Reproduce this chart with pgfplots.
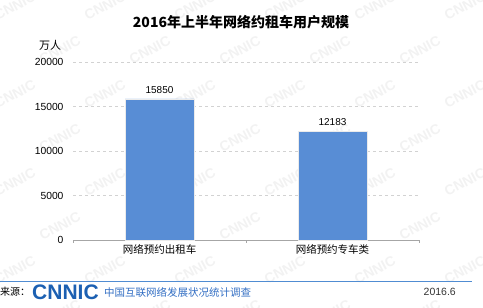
\documentclass[border=0pt]{standalone}
\usepackage{pgfplots}
\pgfplotsset{compat=1.18}
\usepackage{fontspec}
\setmainfont{Liberation Sans}
\newfontfamily\cjk{Noto Sans CJK SC}
\definecolor{barblue}{RGB}{88,141,213}
\definecolor{lineblue}{RGB}{80,140,210}
\definecolor{logoblue}{RGB}{28,96,178}
\definecolor{srcblue}{RGB}{50,110,195}
\begin{document}
\begin{tikzpicture}[x=1pt,y=1pt]
\path[use as bounding box] (0pt,0pt) rectangle (483pt,308pt);
\foreach \r in {0,...,7}{
  \foreach \k in {0,...,5}{
    \pgfmathsetmacro{\xx}{mod(\r,2)*45+15+90*\k}
    \pgfmathsetmacro{\yy}{302-44*\r}
    \node[rotate=28, text=black!5, font=\bfseries\fontsize{14}{14}\selectfont] at (\xx pt,\yy pt) {CNNIC};
  }
}
\begin{axis}[
  at={(73pt,68pt)}, anchor=south west,
  scale only axis, width=346pt, height=178pt,
  xmin=-0.5, xmax=1.5, ymin=0, ymax=20000,
  ytick={0,5000,10000,15000,20000},
  xtick={0,1}, xticklabels={\cjk 网络预约出租车, \cjk 网络预约专车类},
  minor xtick={-0.5,0.5,1.5},
  major tick length=0pt, minor tick length=3pt,
  tick align=outside,
  minor tick style={gray!70},
  axis x line*=bottom, axis y line*=left,
  x axis line style={gray!70, -},
  y axis line style={draw=none},
  ymajorgrids, grid style={dashed, gray!35},
  yticklabel style={font=\fontsize{10.3}{11}\selectfont, xshift=-6pt},
  xticklabel style={font=\fontsize{10.5}{12}\selectfont, yshift=-1pt},
  /pgf/number format/assume math mode=true,
  scaled y ticks=false,
  yticklabel={\pgfmathprintnumber[1000 sep={}]{\tick}},
  ybar, bar width=69pt,
  nodes near coords,
  nodes near coords style={font=\fontsize{10}{11}\selectfont, /pgf/number format/1000 sep={}, yshift=2pt},
  clip=false,
]
\addplot[fill=barblue, draw=black!8, line width=0.6pt] coordinates {(0,15850) (1,12183)};
\end{axis}
\node[font=\cjk\bfseries\fontsize{14}{16}\selectfont] at (241pt,286pt) {2016年上半年网络约租车用户规模};
\node[font=\cjk\fontsize{11}{12}\selectfont] at (50pt,263pt) {万人};
\draw[lineblue, line width=0.8pt] (0pt,27pt) -- (472pt,27pt);
\node[anchor=west, font=\cjk\fontsize{10}{11}\selectfont, inner sep=0pt] at (0pt,16pt) {来源：};
\node[anchor=west, font=\bfseries\fontsize{21}{21}\selectfont, text=logoblue, inner sep=0pt] at (32pt,16pt) {CNNIC};
\node[anchor=west, font=\cjk\fontsize{10.5}{11}\selectfont, text=srcblue, inner sep=0pt] at (104pt,16pt) {中国互联网络发展状况统计调查};
\node[anchor=east, font=\fontsize{10.5}{11}\selectfont, text=black!80, inner sep=0pt] at (456pt,16pt) {2016.6};
\end{tikzpicture}
\end{document}
